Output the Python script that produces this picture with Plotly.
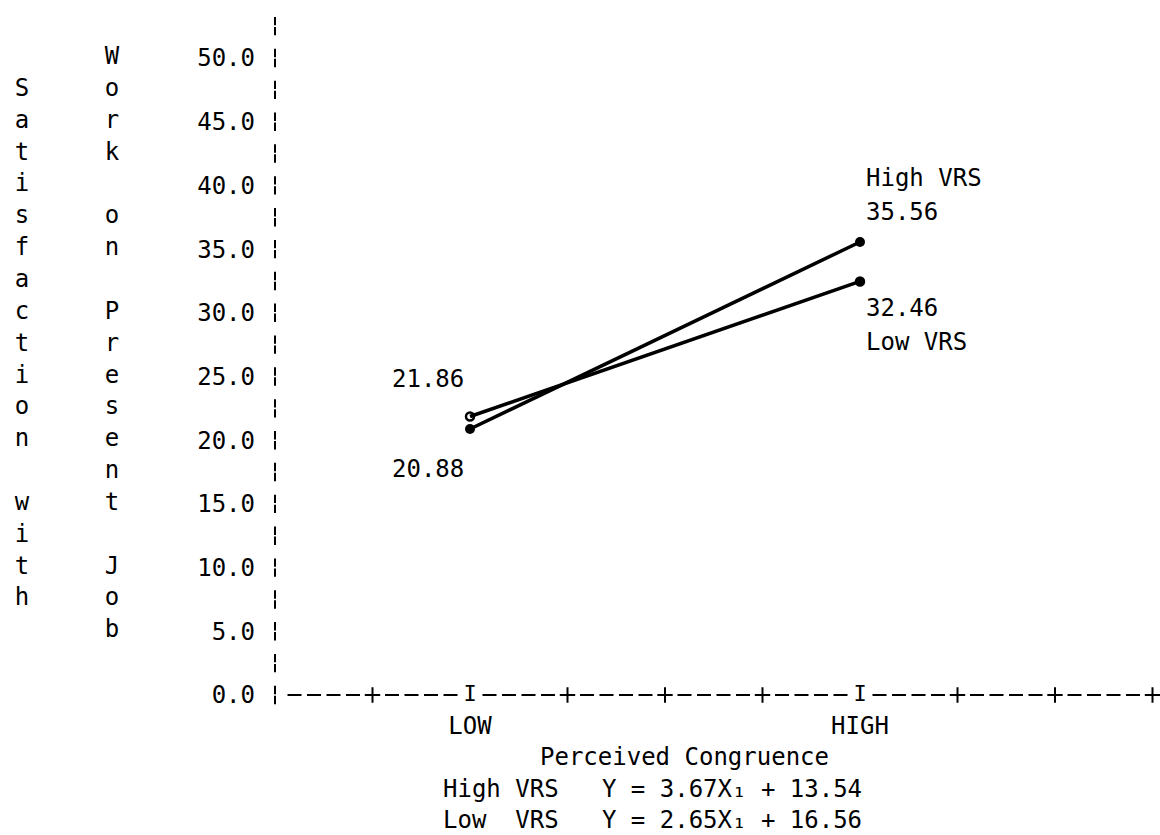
import plotly.graph_objects as go

# ---------------- data ----------------
categories = ["LOW", "HIGH"]
high_vrs = [20.88, 35.56]
low_vrs = [21.86, 32.46]
high_vrs_labels = ["20.88", "35.56"]
low_vrs_labels = ["21.86", "32.46"]
y_ticks = [0, 5, 10, 15, 20, 25, 30, 35, 40, 45, 50]
y_title_outer = "Satisfaction with"
y_title_inner = "Work on Present Job"
x_title = "Perceived Congruence"
equations = ["High VRS   Y = 3.67X\u2081 + 13.54",
             "Low  VRS   Y = 2.65X\u2081 + 16.56"]
series_names = ["High VRS", "Low VRS"]

# ---------------- layout helpers ----------------
W, H = 1160, 835
FONT = "DejaVu Sans Mono"
FS = 24
cat_pos = [10, 30]             # character columns of LOW / HIGH on the printer axis
plus_pos = [5, 15, 20, 25, 35, 40, 45]
ORIGIN_PX, XUNIT = 275, 19.5   # pixel of x=0, pixels per column
ZERO_PY, YUNIT = 695, 12.74    # pixel of y=0, pixels per unit
x0 = -ORIGIN_PX / XUNIT
x1 = x0 + W / XUNIT
y1 = ZERO_PY / YUNIT
y0 = -(H - ZERO_PY) / YUNIT


def xp(px):
    return px / W


def yp(py):
    return 1 - py / H


fig = go.Figure()

# y axis broken bars (printer style): two short dashes per printed row
bar_rows = [i * 2.5 for i in range(22)]
half = 5.0 / YUNIT
bar_y = []
for r in bar_rows:
    bar_y += [r + half, r - half]
fig.add_trace(go.Scatter(
    x=[0] * len(bar_y), y=bar_y, mode="markers",
    marker=dict(symbol="line-ns", size=6, line=dict(width=2, color="black")),
    hoverinfo="skip", showlegend=False, cliponaxis=False))

# x axis dashes
dash_pos = [i for i in range(1, 45) if i % 5 != 0]
fig.add_trace(go.Scatter(
    x=dash_pos, y=[0] * len(dash_pos), mode="markers",
    marker=dict(symbol="line-ew", size=10, line=dict(width=2, color="black")),
    hoverinfo="skip", showlegend=False, cliponaxis=False))
fig.add_trace(go.Scatter(
    x=plus_pos, y=[0] * len(plus_pos), mode="markers",
    marker=dict(symbol="cross-thin", size=11, line=dict(width=2, color="black")),
    hoverinfo="skip", showlegend=False, cliponaxis=False))
fig.add_trace(go.Scatter(
    x=cat_pos, y=[0] * len(cat_pos), mode="text", text=["I"] * len(cat_pos),
    textfont=dict(family=FONT, size=22, color="black"), hoverinfo="skip",
    showlegend=False, cliponaxis=False))

# data lines
fig.add_trace(go.Scatter(
    x=cat_pos, y=high_vrs, mode="lines+markers", name=series_names[0],
    line=dict(color="black", width=3.5),
    marker=dict(symbol="circle", size=10, color="black"), showlegend=False))
fig.add_trace(go.Scatter(
    x=cat_pos, y=low_vrs, mode="lines+markers", name=series_names[1],
    line=dict(color="black", width=3.5),
    marker=dict(symbol=["circle-open", "circle"], size=8, color="black",
                line=dict(width=2.5, color="black")), showlegend=False))

# vertical y titles
for title, start, px in [(y_title_outer, 47.5, 22), (y_title_inner, 50.0, 112)]:
    ys, ts = [], []
    for i, ch in enumerate(title):
        if ch.strip():
            ys.append(start - 2.5 * i)
            ts.append(ch)
    fig.add_trace(go.Scatter(
        x=[(px - ORIGIN_PX) / XUNIT] * len(ys), y=ys, mode="text", text=ts,
        textfont=dict(family=FONT, size=FS, color="black"), hoverinfo="skip",
        showlegend=False, cliponaxis=False))

ann = []
tf = dict(family=FONT, size=FS, color="black")
# value labels at LOW
ann.append(dict(x=cat_pos[0], y=low_vrs[0], text=low_vrs_labels[0], xanchor="right",
                yanchor="middle", xshift=-4, yshift=38, showarrow=False, font=tf))
ann.append(dict(x=cat_pos[0], y=high_vrs[0], text=high_vrs_labels[0], xanchor="right",
                yanchor="middle", xshift=-4, yshift=-40, showarrow=False, font=tf))
# value labels at HIGH
ann.append(dict(x=cat_pos[1], y=high_vrs[1], text=series_names[0], xanchor="left",
                yanchor="middle", xshift=4, yshift=64, showarrow=False, font=tf))
ann.append(dict(x=cat_pos[1], y=high_vrs[1], text=high_vrs_labels[1], xanchor="left",
                yanchor="middle", xshift=4, yshift=30, showarrow=False, font=tf))
ann.append(dict(x=cat_pos[1], y=low_vrs[1], text=low_vrs_labels[1], xanchor="left",
                yanchor="middle", xshift=4, yshift=-27, showarrow=False, font=tf))
ann.append(dict(x=cat_pos[1], y=low_vrs[1], text=series_names[1], xanchor="left",
                yanchor="middle", xshift=4, yshift=-61, showarrow=False, font=tf))
# bottom texts
ann.append(dict(x=xp(684), y=yp(757), xref="paper", yref="paper", text=x_title,
                xanchor="center", yanchor="middle", showarrow=False, font=tf))
for i, eq in enumerate(equations):
    ann.append(dict(x=xp(652), y=yp(789 + 31 * i), xref="paper", yref="paper", text=eq,
                    xanchor="center", yanchor="middle", showarrow=False, font=tf))

fig.update_layout(
    width=W, height=H, autosize=False,
    margin=dict(l=0, r=0, t=0, b=0),
    paper_bgcolor="white", plot_bgcolor="white",
    font=dict(family=FONT, size=FS, color="black"),
    annotations=ann,
    xaxis=dict(range=[x0, x1], domain=[0, 1], anchor="free", position=yp(ZERO_PY),
               tickvals=cat_pos, ticktext=categories, ticks="", showgrid=False,
               zeroline=False, showline=False, ticklabelstandoff=14,
               tickfont=dict(family=FONT, size=FS, color="black")),
    yaxis=dict(range=[y0, y1], domain=[0, 1], anchor="free", position=xp(ORIGIN_PX),
               tickvals=y_ticks, tickformat=".1f", ticks="", showgrid=False,
               zeroline=False, showline=False, ticklabelstandoff=20,
               tickfont=dict(family=FONT, size=FS, color="black")),
)

fig.write_html("out.html", config={"displayModeBar": False},
               post_script="document.body.style.margin='0';")
